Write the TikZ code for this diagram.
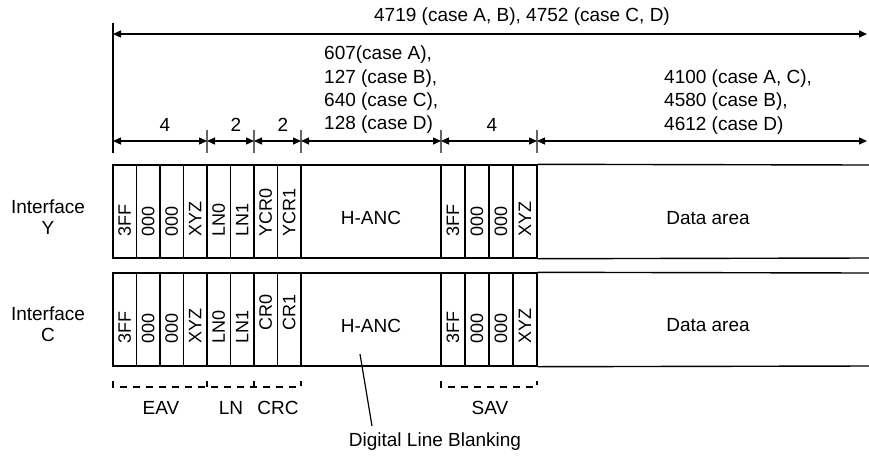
\documentclass[tikz,border=0pt]{standalone}
\usepackage{fontspec}
\setmainfont{Liberation Sans}
\usetikzlibrary{arrows.meta}
\newcommand\fsz{\fontsize{19}{23.3}\selectfont}
\newcommand\fsv{\fontsize{18}{22}\selectfont}
\begin{document}
\begin{tikzpicture}[x=1pt,y=-1pt,
  boxcell/.style={draw, line width=1.4pt, inner sep=0pt, minimum height=93pt},
  vtxt/.style={rotate=90, anchor=west, inner sep=0pt, font=\fsv},
  lab/.style={font=\fsz, inner sep=0pt},
  dimline/.style={line width=1.3pt, {Triangle[length=8pt,width=7pt]}-{Triangle[length=8pt,width=7pt]}},
  tickline/.style={line width=1.2pt, black!60},
  brk/.style={line width=1.2pt, dash pattern=on 7pt off 6pt},
  edge/.style={line width=1.4pt}]
\useasboundingbox (0,0) rectangle (869,456);

% ---- dimension lines
\coordinate (topL) at (113,34);
\coordinate (topR) at (867,34);
\coordinate (vA) at (113,23);
\coordinate (vB) at (113,153);
\draw[edge] (vA) -- (vB);
\draw[dimline] (topL) -- (topR);
\node[lab] (ttop) at (522,17) {4719 (case A, B), 4752 (case C, D)};

\foreach \x in {207,254,301,441,537}{
  \draw[tickline] (\x,130) -- (\x,153);
}
\foreach \a/\b in {113/207, 207/254, 254/301, 301/441, 441/537, 537/867}{
  \draw[dimline] (\a,141) -- (\b,141);
}
\node[lab] (d1) at (165,125) {4};
\node[lab] (d2) at (236,125) {2};
\node[lab] (d3) at (283,125) {2};
\node[lab] (d4) at (492,125) {4};
\node[lab, align=left, anchor=west] (dh) at (324,90)
  {607(case A),\\127 (case B),\\640 (case C),\\128 (case D)};
\node[lab, align=left, anchor=west] (dd) at (664,102)
  {4100 (case A, C),\\4580 (case B),\\4612 (case D)};

% ---- interface labels
\node[lab, align=center, font=\fontsize{19}{21}\selectfont] (iy) at (48,217) {Interface\\Y};
\node[lab, align=center, font=\fontsize{19}{21}\selectfont] (ic) at (48,324) {Interface\\C};

% ---- Interface Y row
\foreach \n/\a/\b/\t in {1/113/136.5/3FF, 2/136.5/160/000, 3/160/183.5/000, 4/183.5/207/XYZ,
    5/207/230.5/LN0, 6/230.5/254/LN1, 7/254/277.5/YCR0, 8/277.5/301/YCR1,
    10/441/465/3FF, 11/465/489/000, 12/489/513/000, 13/513/537/XYZ}{
  \node[boxcell, minimum width={\b-\a}] (Y\n) at ({(\a+\b)/2},211.5) {};
  \node[vtxt] at ([yshift=22pt]Y\n.south) {\t};
}
\node[boxcell, minimum width=140pt] (Y9) at (371,211.5) {};
\node[lab] (yh) at ([yshift=-6.5pt]Y9.center) {H-ANC};
\coordinate (yde) at (869,165);
\coordinate (ydf) at (869,258);
\draw[edge] (Y13.north east) -- (yde);
\draw[edge] (Y13.south east) -- (ydf);
\node[lab] (yda) at (708,218) {Data area};

% ---- Interface C row
\foreach \n/\a/\b/\t/\s in {1/113/136.5/3FF/23, 2/136.5/160/000/23, 3/160/183.5/000/23, 4/183.5/207/XYZ/23,
    5/207/230.5/LN0/23, 6/230.5/254/LN1/23, 7/254/277.5/CR0/36, 8/277.5/301/CR1/36,
    10/441/465/3FF/23, 11/465/489/000/23, 12/489/513/000/23, 13/513/537/XYZ/23}{
  \node[boxcell, minimum width={\b-\a}] (C\n) at ({(\a+\b)/2},319.5) {};
  \node[vtxt] at ([yshift=\s pt]C\n.south) {\t};
}
\node[boxcell, minimum width=140pt] (C9) at (371,319.5) {};
\node[lab] (ch) at ([yshift=-6.5pt]C9.center) {H-ANC};
\coordinate (cde) at (869,273);
\coordinate (cdf) at (869,366);
\draw[edge] (C13.north east) -- (cde);
\draw[edge] (C13.south east) -- (cdf);
\node[lab] (cda) at (708,325) {Data area};

% ---- brackets
\draw[brk] (113,381) -- (113,387) -- (301,387) -- (301,381);
\draw[line width=1.2pt] (207,381) -- (207,387);
\draw[line width=1.2pt] (254,381) -- (254,387);
\draw[brk] (441,381) -- (441,387) -- (537,387) -- (537,381);
\node[lab] (eav) at (161,408) {EAV};
\node[lab] (ln) at (231,408) {LN};
\node[lab] (crc) at (278,408) {CRC};
\node[lab] (sav) at (490,408) {SAV};

% ---- digital line blanking
\node[lab] (dlb) at (435,442) {Digital Line Blanking};
\coordinate (lbA) at (360,354);
\coordinate (lbB) at (372,426);
\draw[line width=1.2pt] (lbA) -- (lbB);
\end{tikzpicture}
\end{document}
